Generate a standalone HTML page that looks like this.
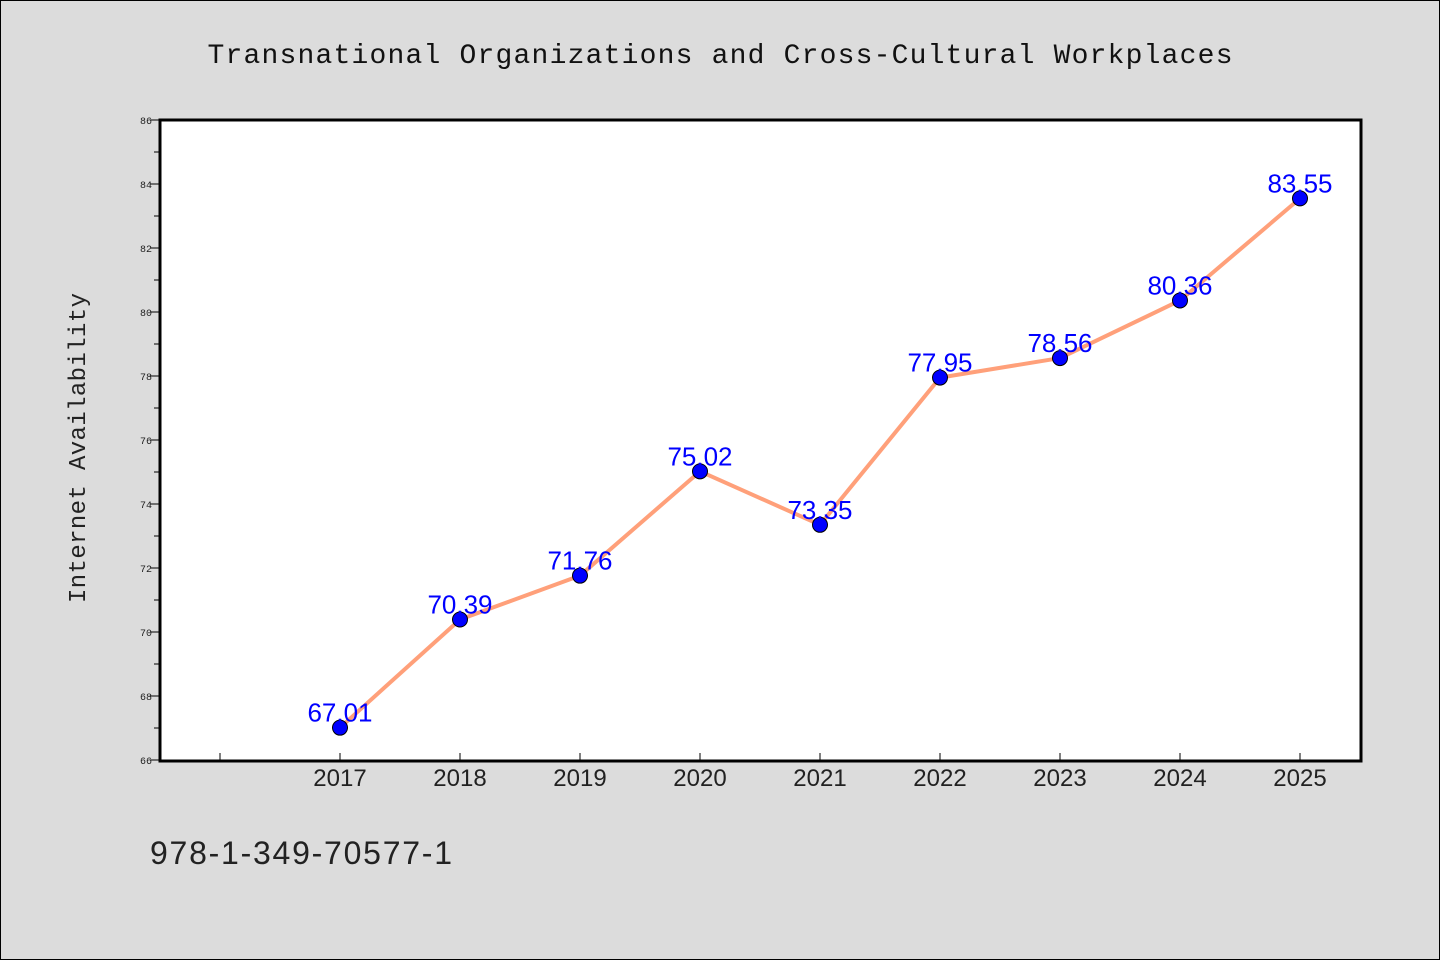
<!DOCTYPE html>
<html><head><meta charset="utf-8"><style>
html,body{margin:0;padding:0;background:#dcdcdc;}
svg{display:block}
</style></head><body>
<svg width="1440" height="960" xmlns="http://www.w3.org/2000/svg">
<rect x="0.5" y="0.5" width="1439" height="959" fill="#dcdcdc" stroke="#000" stroke-width="1"/>
<text x="720" y="63" text-anchor="middle" font-family="'WenQuanYi Zen Hei','Liberation Mono',monospace" font-size="28" textLength="1025" fill="#111">Transnational Organizations and Cross-Cultural Workplaces</text>
<rect x="160" y="120" width="1201" height="641" fill="#fff"/>
<g id="yticks"></g>
<g id="xticks"></g>
<g id="series"></g>
<rect x="160" y="120" width="1201" height="641" fill="none" stroke="#000" stroke-width="3"/>
<text transform="translate(85,448) rotate(-90)" text-anchor="middle" font-family="'WenQuanYi Zen Hei','Liberation Mono',monospace" font-size="24" textLength="310" fill="#222">Internet Availability</text>
<text x="150" y="864" font-family="'WenQuanYi Zen Hei','Liberation Sans',sans-serif" font-size="32" textLength="302" fill="#222">978-1-349-70577-1</text>
</svg>
<script>
const years = ['2017','2018','2019','2020','2021','2022','2023','2024','2025'];
const values = [67.01, 70.39, 71.76, 75.02, 73.35, 77.95, 78.56, 80.36, 83.55];
const yTickLabels = ['66','68','70','72','74','76','78','80','82','84','86'];

(function(){
const NS = 'http://www.w3.org/2000/svg';
const yMin = 66, yMax = 86, plotTop = 120, plotBottom = 760;
function yScale(v){ return plotBottom - (v - yMin) / (yMax - yMin) * (plotBottom - plotTop); }
function xScale(i){ return 340 + i * 120; }
function mk(tag, attrs, parent){ const e = document.createElementNS(NS, tag); for (const k in attrs) e.setAttribute(k, attrs[k]); parent.appendChild(e); return e; }

const yt = document.getElementById('yticks');
for (let v = yMin; v <= yMax; v += 1) {
  const y = yScale(v);
  const major = (v % 2 === 0);
  const t = mk('line', {x1: major ? 150 : 154, x2: 160, y1: y, y2: y, stroke: '#000', 'stroke-width': 1}, yt);
  
  
}
yTickLabels.forEach(lbl => {
  const y = yScale(parseFloat(lbl));
  const t = mk('text', {x: 152, y: y + 4, 'text-anchor': 'end', 'font-family': "'Liberation Mono',monospace", 'font-size': 10, fill: '#222'}, yt);
  t.textContent = lbl;
  
  
});

const xt = document.getElementById('xticks');
const t0 = mk('line', {x1: xScale(-1), x2: xScale(-1), y1: 753, y2: 760, stroke: '#000', 'stroke-width': 1}, xt);


years.forEach((yr, i) => {
  const x = xScale(i);
  const t = mk('line', {x1: x, x2: x, y1: 753, y2: 760, stroke: '#000', 'stroke-width': 1}, xt);
  
  
  const l = mk('text', {x: x, y: 786, 'text-anchor': 'middle', 'font-family': "'WenQuanYi Zen Hei','Liberation Sans',sans-serif", 'font-size': 24, fill: '#222'}, xt);
  l.textContent = yr;
  
  
});

const sg = document.getElementById('series');
const pts = values.map((v, i) => xScale(i) + ',' + yScale(v)).join(' ');
const line = mk('polyline', {points: pts, fill: 'none', stroke: '#ffa07a', 'stroke-width': 4, 'stroke-linejoin': 'round'}, sg);


values.forEach((v, i) => {
  const c = mk('circle', {cx: xScale(i), cy: yScale(v), r: 7.5, fill: '#0000ff', stroke: '#000', 'stroke-width': 1}, sg);
  
  
});
values.forEach((v, i) => {
  const l = mk('text', {x: xScale(i), y: yScale(v) - 6, 'text-anchor': 'middle', 'font-family': "'WenQuanYi Zen Hei','Liberation Sans',sans-serif", 'font-size': 26, fill: '#0000ff'}, sg);
  l.textContent = v.toFixed(2);
  
  
});
})();
</script>
</body></html>
